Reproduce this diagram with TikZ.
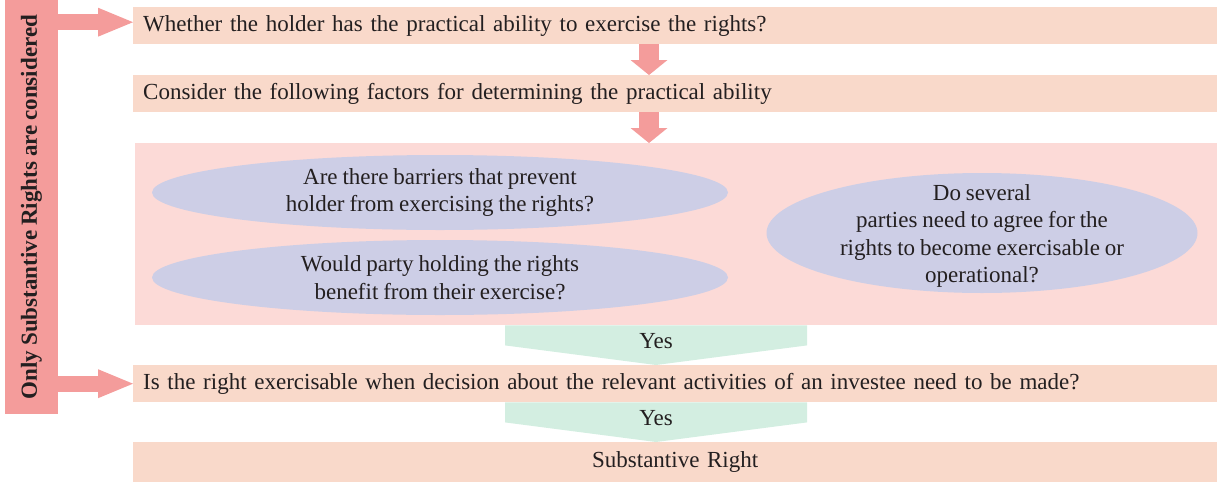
\documentclass[tikz,border=0pt]{standalone}
\usepackage{fontspec}
\setmainfont{Liberation Serif}[WordSpace=0.85]
\usetikzlibrary{shapes.geometric}
\usetikzlibrary{arrows.meta}
\usetikzlibrary{calc}

\definecolor{boxpeach}{HTML}{F9D9CA}
\definecolor{barpink}{HTML}{F49C9B}
\definecolor{areapink}{HTML}{FCDAD7}
\definecolor{ovalblue}{HTML}{CDCEE6}
\definecolor{yesgreen}{HTML}{D3EEE1}
\definecolor{inkgray}{HTML}{231F20}

\tikzset{
  stepbox/.style={fill=boxpeach, anchor=north west, minimum width=1084pt, minimum height=37pt,
    text width=1064pt, inner xsep=10pt, inner ysep=0pt, align=left},
  sidebar/.style={fill=barpink, rotate=90, minimum width=414pt, minimum height=53pt,
    inner sep=0pt, font=\fontsize{23}{28}\selectfont\bfseries},
  oval/.style={ellipse, fill=ovalblue, inner sep=0pt},
  sidearrow/.style={draw=barpink, line width=16pt, -{Triangle[length=35pt,width=29pt,line width=0pt]}},
  downarrow/.style={draw=barpink, line width=20pt, -{Triangle[length=15pt,width=37pt,line width=0pt]}}
}

\begin{document}
\begin{tikzpicture}[x=1pt,y=-1pt,font=\fontsize{23}{27.5}\selectfont,text=inkgray]
    \useasboundingbox (0,0) rectangle (1217,482);
    % side bar
    \node[sidebar] (bar) at (31.5,207) {Only Substantive Rights are considered};
    % steps
    \node[stepbox] (q1) at (133,7) {Whether the holder has the practical ability to exercise the rights?};
    \node[stepbox] (q2) at (133,75) {Consider the following factors for determining the practical ability};
    \node[fill=areapink, anchor=north west, minimum width=1082pt, minimum height=182pt, inner sep=0pt] (factors) at (135,143) {};
    \node[stepbox] (q3) at (133,365) {Is the right exercisable when decision about the relevant activities of an investee need to be made?};
    \node[stepbox, minimum height=40pt, align=center] (res) at (133,442) {Substantive Right};
    % factors
    \node[oval, minimum width=576pt, minimum height=75pt] (o1) at (440,192.5) {};
    \node[oval, minimum width=576pt, minimum height=75pt] (o2) at (440,277.5) {};
    \node[oval, minimum width=431pt, minimum height=120pt] (o3) at (982,233) {};
    \node[align=center] (o1t) at (o1) {Are there barriers that prevent\\holder from exercising the rights?};
    \node[align=center] (o2t) at (o2) {Would party holding the rights\\benefit from their exercise?};
    \node[align=center] (o3t) at ($(o3)+(0,3)$) {Do several\\parties need to agree for the\\rights to become exercisable or\\operational?};
    % arrows
    \draw[sidearrow] ($(bar.south |- q1.west)+(0,-3.5)$) -- ($(q1.west)+(0,-3.5)$);
    \draw[sidearrow] (bar.south |- q3.west) -- (q3.west);
    \coordinate (col) at (649,0);
    \draw[downarrow] (col |- q1.south) -- (col |- q2.north);
    \draw[downarrow] (col |- q2.south) -- (col |- factors.north);
    \coordinate (yl) at (505,0);
    \coordinate (yr) at (807,0);
    \coordinate (ymid) at (656,0);
    \foreach \a/\b/\nm in {factors/q3/yes1, q3/res/yes2} {
        \fill[yesgreen] (yl |- \a.south) -- (yr |- \a.south) -- ($(yr |- \a.south)+(0,20)$)
            -- (ymid |- \b.north) -- ($(yl |- \a.south)+(0,20)$) -- cycle;
        \node (\nm) at ($(ymid |- \a.south)+(0,16)$) {Yes};
    }
\end{tikzpicture}
\end{document}
